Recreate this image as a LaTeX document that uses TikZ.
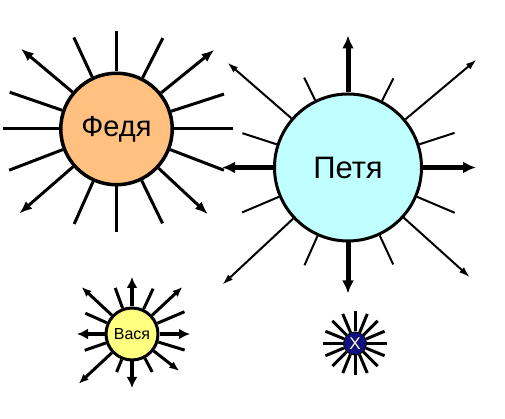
\documentclass[tikz,border=0pt]{standalone}
\usepackage{fontspec}
\setmainfont{Liberation Sans}
\usetikzlibrary{arrows.meta}

\definecolor{fedfill}{RGB}{255,192,128}
\definecolor{petfill}{RGB}{192,255,255}
\definecolor{vasfill}{RGB}{255,255,128}
\definecolor{xfill}{RGB}{16,16,128}
\definecolor{xtext}{RGB}{255,255,204}

\begin{document}
\begin{tikzpicture}[x=1pt,y=1pt,
  sun/.style={circle,draw,inner sep=0pt},
  fedray/.style={line width=3pt},
  fedarrow/.style={line width=3pt,-{Latex[length=13pt,width=10pt]}},
  petray/.style={line width=2pt},
  petarrow/.style={line width=2pt,-{Latex[length=11pt,width=7pt]}},
  petbig/.style={line width=5pt,-{Latex[length=13pt,width=12pt]}},
  vasray/.style={line width=3pt},
  vasarrow/.style={line width=3pt,-{Latex[length=10pt,width=8pt]}},
  vasbig/.style={line width=4pt,-{Latex[length=11pt,width=11pt]}},
  xray/.style={line width=3pt}]
\useasboundingbox (0,0) rectangle (505,419);

% Fedya
\node[sun,fill=fedfill,line width=3.5pt,minimum size=111.5pt,font=\fontsize{29}{31}\selectfont] (fedya) at (116.5,290) {Федя};
\foreach \a/\l in {90/98,115/101,63/102,161/113,18/113,180/114,0/116,201/115,339/115,246/104,296/105,270/103}
  \draw[fedray] (fedya.\a) -- ([shift={(\a:\l)}]fedya.center);
\foreach \a/\l in {140/125,39/126,221/129,317/125}
  \draw[fedarrow] (fedya.\a) -- ([shift={(\a:\l)}]fedya.center);

% Petya
\node[sun,fill=petfill,line width=3pt,minimum size=147pt,font=\fontsize{31}{33}\selectfont] (petya) at (348,251.5) {Петя};
\foreach \a/\l in {116/100,63/100,162/111,18/112,203/115,337/116,246/107,295/107}
  \draw[petray] (petya.\a) -- ([shift={(\a:\l)}]petya.center);
\foreach \a/\l in {40/168,139/160,223/172,318/164}
  \draw[petarrow] (petya.\a) -- ([shift={(\a:\l)}]petya.center);
\foreach \a/\l in {90/132,0/128,180/126,270/126}
  \draw[petbig] (petya.\a) -- ([shift={(\a:\l)}]petya.center);

% Vasya
\node[sun,fill=vasfill,line width=3pt,minimum size=52pt,font=\fontsize{16}{18}\selectfont] (vasya) at (132,85) {Вася};
\foreach \a/\l in {110/49,65/50,156/51,23/57,199/50,343/55,248/41,298/43}
  \draw[vasray] (vasya.\a) -- ([shift={(\a:\l)}]vasya.center);
\foreach \a/\l in {137/69,43/69,223/73,322/60}
  \draw[vasarrow] (vasya.\a) -- ([shift={(\a:\l)}]vasya.center);
\foreach \a/\l in {90/57,270/54,180/55,0/58}
  \draw[vasbig] (vasya.\a) -- ([shift={(\a:\l)}]vasya.center);

% X
\node[sun,fill=xfill,line width=1pt,minimum size=23pt,text=xtext,font=\fontsize{17}{18}\selectfont] (ix) at (355,75.5) {X};
\foreach \a in {0,22.5,...,337.5}
  \draw[xray] (ix.\a) -- ([shift={(\a:32)}]ix.center);
\end{tikzpicture}
\end{document}
